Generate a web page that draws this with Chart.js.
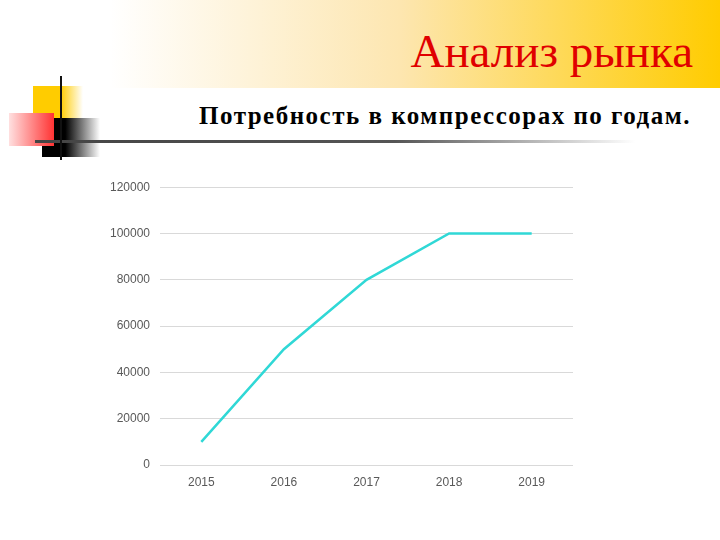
<!DOCTYPE html>
<html>
<head>
<meta charset="utf-8">
<script src="https://cdn.jsdelivr.net/npm/chart.js@4/dist/chart.umd.min.js"></script>
<style>
  body { margin: 0; width: 720px; height: 540px; background: #fff; position: relative; overflow: hidden; }
  .band { position: absolute; left: 0; top: 0; width: 720px; height: 88px;
          background: linear-gradient(to right, #fff 0px, #fff 110px, #fde6b0 400px, #ffcc00 720px); }
  .title { position: absolute; right: 27px; top: 28px; font-family: "Liberation Serif", serif;
           font-size: 47px; line-height: 47px; color: #e00000; white-space: nowrap; }
  .subtitle { position: absolute; right: 29px; top: 103px; font-family: "Liberation Serif", serif;
              font-weight: bold; font-size: 25px; line-height: 25px; letter-spacing: 1.5px; color: #000; white-space: nowrap; }
  .rule { position: absolute; left: 35px; top: 140px; width: 600px; height: 3px;
          background: linear-gradient(to right, #444 0%, #555 60%, #fff 100%); }
  .sqY { position: absolute; left: 33px; top: 86px; width: 50px; height: 33px;
         background: linear-gradient(to right, #ffcc00 55%, #fff 100%); }
  .sqR { position: absolute; left: 9px; top: 113px; width: 45px; height: 33px;
         background: linear-gradient(to right, #ffe0e0 0%, #ff3333 100%); }
  .sqK { position: absolute; left: 42px; top: 118px; width: 58px; height: 39px;
         background: linear-gradient(to right, #000 40%, #fff 100%); }
  .vline { position: absolute; left: 60px; top: 76px; width: 2px; height: 84px; background: #111; }
  #wrap { position: absolute; left: 90px; top: 170px; width: 490px; height: 325px; }
</style>
</head>
<body>
<div class="band"></div>
<div class="title">Анализ рынка</div>
<div class="sqY"></div>
<div class="sqK"></div>
<div class="sqR"></div>
<div class="rule"></div>
<div class="vline"></div>
<div class="subtitle">Потребность в компрессорах по годам.</div>
<div id="wrap"><canvas id="chart"></canvas></div>
<script>
//// data
const years = ["2015", "2016", "2017", "2018", "2019"]
const demand = [10000, 50000, 80000, 100000, 100000]
const yMax = 120000
const yStep = 20000

//// chart
const chartElement = document.querySelector("#chart")

let demandChart = new Chart(chartElement, {
    type: 'line',
    data: {
        labels: years,
        datasets: [
            {
                label: 'Потребность',
                data: demand,
                borderColor: '#30d8d6',
                borderWidth: 2.5,
                pointRadius: 0,
                tension: 0,
                fill: false
            }
        ]
    },
    options: {
        responsive: true,
        maintainAspectRatio: false,
        animation: false,
        layout: { padding: { top: 14, right: 7, left: 0, bottom: 0 } },
        plugins: {
            legend: { display: false },
            tooltip: { enabled: false }
        },
        scales: {
            x: {
                offset: true,
                grid: { display: false },
                border: { display: false },
                ticks: { color: '#595959', font: { family: 'Liberation Sans', size: 12 }, padding: 2 },
                afterFit: (scale) => { scale.height = 30 }
            },
            y: {
                min: 0,
                max: yMax,
                grid: { color: '#d9d9d9', drawTicks: false },
                border: { display: false },
                ticks: {
                    stepSize: yStep, color: '#595959', font: { family: 'Liberation Sans', size: 12 }, padding: 10,
                    callback: (v) => String(v)
                },
                afterFit: (scale) => { scale.width = 70 }
            }
        }
    }
});
</script>
</body>
</html>
